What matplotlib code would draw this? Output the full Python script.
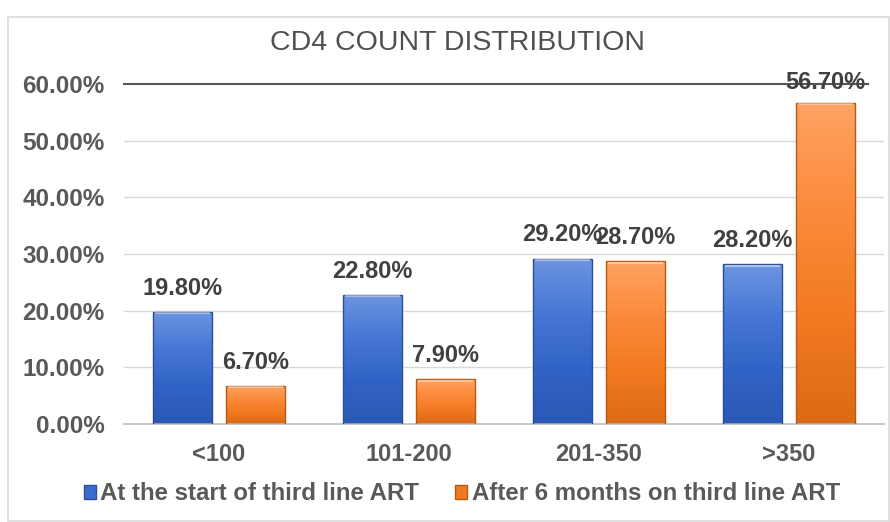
import numpy as np
import matplotlib
matplotlib.use("Agg")
import matplotlib.pyplot as plt
from matplotlib.patches import Rectangle
from matplotlib.colors import LinearSegmentedColormap

categories = ["<100", "101-200", "201-350", ">350"]
start_art = [19.8, 22.8, 29.2, 28.2]
after_6m = [6.7, 7.9, 28.7, 56.7]
series_names = ["At the start of third line ART", "After 6 months on third line ART"]
y_ticks = [0, 10, 20, 30, 40, 50, 60]

plt.rcParams['font.family'] = ['Liberation Sans', 'DejaVu Sans']

fig = plt.figure(figsize=(8.9, 5.22), dpi=100)
fig.patch.set_facecolor('white')
# outer chart border
fig.patches.append(Rectangle((8 / 890, 0.002), 0.99, 1 - 17 / 522 - 0.002, transform=fig.transFigure,
                             fill=False, edgecolor='#D9D9D9', linewidth=1.2))

ax = fig.add_axes([124 / 890, 98 / 522, 760 / 890, 340 / 522])
x = np.arange(len(categories))
w = 0.31
off = 0.193

blue_cm = LinearSegmentedColormap.from_list('b', ['#6C95E0', '#4677D6', '#3163C6', '#2A58B5'])
orange_cm = LinearSegmentedColormap.from_list('o', ['#FFA262', '#FB8B3C', '#F27A22', '#DD6A16'])


def draw_bars(xs, vals, cmap, edge):
    bars = ax.bar(xs, vals, w, color='none', edgecolor=edge, linewidth=1.0, zorder=3)
    grad = np.linspace(0, 1, 100).reshape(-1, 1)
    for b in bars:
        x0, y0 = b.get_x(), b.get_y()
        im = ax.imshow(grad, cmap=cmap, aspect='auto', zorder=2, origin='upper',
                       extent=[x0, x0 + b.get_width(), y0, y0 + b.get_height()])
        im.set_clip_path(b)
        # bevel highlight on top edge
        ax.plot([x0 + 0.01, x0 + b.get_width() - 0.01], [b.get_height() - 0.25] * 2,
                color='white', alpha=0.45, linewidth=1.5, zorder=4, solid_capstyle='butt')
    return bars


b1 = draw_bars(x - off, start_art, blue_cm, '#2C4F91')
b2 = draw_bars(x + off, after_6m, orange_cm, '#B95A12')

for xs, vals in [(x - off, start_art), (x + off, after_6m)]:
    for xi, v in zip(xs, vals):
        dy = 14.5 if v > 50 else 17
        ax.annotate(f"{v:.2f}%", (xi, v), xytext=(0, dy), textcoords='offset points',
                    ha='center', va='center', fontsize=17, fontweight='bold',
                    color='#404040', zorder=6, annotation_clip=False)

ax.set_xlim(-0.5, len(categories) - 0.5)
ax.set_ylim(0, 60)
ax.set_yticks(y_ticks)
ax.set_yticklabels([f"{t:.2f}%" for t in y_ticks])
ax.set_xticks(x)
ax.set_xticklabels(categories)
ax.tick_params(axis='y', length=0, pad=14, labelsize=17.5, labelcolor='#595959')
ax.tick_params(axis='x', length=0, pad=14, labelsize=17, labelcolor='#595959')
for lbl in ax.get_xticklabels() + ax.get_yticklabels():
    lbl.set_fontweight('bold')

for t in y_ticks[1:-1]:
    ax.axhline(t, color='#D9D9D9', linewidth=1.0, zorder=0)
ax.axhline(60, xmax=744 / 760, color='#555555', linewidth=1.5, zorder=5, clip_on=False)
for s in ['top', 'right', 'left']:
    ax.spines[s].set_visible(False)
ax.spines['bottom'].set_color('#BFBFBF')
ax.spines['bottom'].set_linewidth(1.2)

fig.text(458 / 890, 1 - 43 / 522, "CD4 COUNT DISTRIBUTION", ha='center', va='center',
         fontsize=20.5, color='#505050')

handles = [Rectangle((0, 0), 1, 1, facecolor='#3A6BCF', edgecolor='#2C4F91'),
           Rectangle((0, 0), 1, 1, facecolor='#F07A22', edgecolor='#B95A12')]
leg = fig.legend(handles, series_names, loc='center', bbox_to_anchor=(462 / 890, 1 - 494 / 522),
                 ncol=2, frameon=False, handlelength=0.5, handleheight=0.5, handletextpad=0.2,
                 columnspacing=1.5, prop={'size': 17.3, 'weight': 'bold'})
for t in leg.get_texts():
    t.set_color('#595959')

fig.savefig("out.png", dpi=100)
